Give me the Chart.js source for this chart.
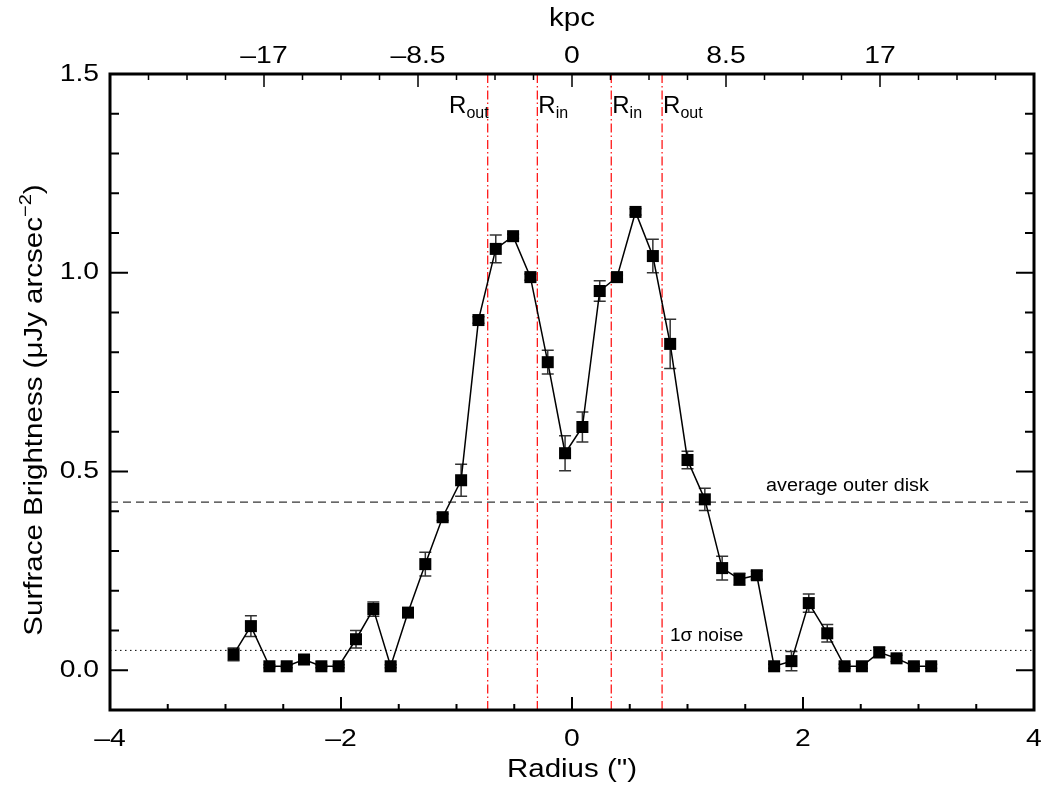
<!DOCTYPE html>
<html>
<head>
<meta charset="utf-8">
<script src="https://cdn.jsdelivr.net/npm/chart.js@4.4.1/dist/chart.umd.min.js"></script>
<style>
  html, body { margin: 0; padding: 0; background: #fff; }
  #wrap { width: 1052px; height: 790px; }
</style>
</head>
<body>
<div id="wrap"><canvas id="perfil" width="1052" height="790"></canvas></div>
<script>
// radial profile
var radius = [-2.93, -2.78, -2.62, -2.47, -2.32, -2.17, -2.02, -1.87, -1.72, -1.57,
              -1.42, -1.27, -1.12, -0.96, -0.81, -0.66, -0.51, -0.36, -0.21, -0.06,
               0.09,  0.24,  0.39,  0.55,  0.70,  0.85,  1.00,  1.15,  1.30,  1.45,
               1.60,  1.75,  1.90,  2.05,  2.21,  2.36,  2.51,  2.66,  2.81,  2.96, 3.11];
var brightness = [0.040, 0.111, 0.010, 0.010, 0.027, 0.010, 0.010, 0.078, 0.154, 0.010,
                  0.145, 0.267, 0.385, 0.478, 0.881, 1.060, 1.092, 0.989, 0.775, 0.546,
                  0.612, 0.954, 0.989, 1.153, 1.042, 0.821, 0.529, 0.430, 0.257, 0.229,
                  0.239, 0.010, 0.023, 0.169, 0.093, 0.010, 0.010, 0.045, 0.030, 0.010, 0.010];
var errors = [0.016, 0.026, 0.004, 0.004, 0.008, 0.004, 0.004, 0.022, 0.018, 0.004,
              0.008, 0.030, 0.008, 0.040, 0.008, 0.035, 0.005, 0.008, 0.030, 0.044,
              0.038, 0.026, 0.005, 0.008, 0.042, 0.062, 0.022, 0.028, 0.030, 0.015,
              0.010, 0.005, 0.024, 0.023, 0.022, 0.005, 0.005, 0.013, 0.008, 0.005, 0.005];

var rLines = [-0.73, -0.30, 0.34, 0.78];
var rSubs = ['out', 'in', 'in', 'out'];
var avgOuterDisk = 0.423;
var noiseLevel = 0.05;

var xTicks = [-4, -2, 0, 2, 4];
var yTicks = [0.0, 0.5, 1.0, 1.5];
var kpcTicks = [-17, -8.5, 0, 8.5, 17];
var kpcPerArcsec = 6.375;

var FONT = '"Liberation Sans", Arial, Helvetica, sans-serif';
// the original lettering is a little wider than Helvetica
var ANCHO = 1.18;

function dash(v) {
    return v < 0 ? '\u2013' + String(Math.abs(v)) : String(v);
}

function vline(x) {
    return [{ x: x, y: -0.1 }, { x: x, y: 1.5 }];
}

function texto(ctx, s, x, y, size, align, stretch, rot) {
    ctx.save();
    ctx.font = size + 'px ' + FONT;
    ctx.textAlign = align;
    ctx.textBaseline = 'middle';
    ctx.fillStyle = '#000';
    ctx.translate(x, y);
    if (rot) ctx.rotate(rot);
    ctx.scale(stretch, 1);
    ctx.fillText(s, 0, 0);
    ctx.restore();
}

var datasets = [{
    label: 'perfil',
    data: radius.map(function (r, i) { return { x: r, y: brightness[i] }; }),
    borderColor: '#000',
    borderWidth: 1.5,
    pointStyle: 'rect',
    pointRadius: 8.5,
    pointBackgroundColor: '#000',
    pointBorderWidth: 0,
    tension: 0
}];
rLines.forEach(function (r) {
    datasets.push({
        data: vline(r),
        borderColor: '#ff1a1a',
        borderWidth: 1.3,
        borderDash: [9, 3, 1.5, 3],
        pointRadius: 0
    });
});
datasets.push({
    data: [{ x: -4, y: avgOuterDisk }, { x: 4, y: avgOuterDisk }],
    borderColor: '#000', borderWidth: 1, borderDash: [8, 5], pointRadius: 0
});
datasets.push({
    data: [{ x: -4, y: noiseLevel }, { x: 4, y: noiseLevel }],
    borderColor: '#000', borderWidth: 1, borderDash: [1.5, 3.5], pointRadius: 0
});

// error bars under the squares
var barrasError = {
    id: 'barrasError',
    beforeDatasetsDraw: function (chart) {
        var ctx = chart.ctx, sx = chart.scales.x, sy = chart.scales.y;
        ctx.save();
        ctx.strokeStyle = '#333';
        ctx.lineWidth = 1.5;
        radius.forEach(function (r, i) {
            var px = sx.getPixelForValue(r);
            var y1 = sy.getPixelForValue(brightness[i] + errors[i]);
            var y2 = sy.getPixelForValue(brightness[i] - errors[i]);
            ctx.beginPath();
            ctx.moveTo(px, y1); ctx.lineTo(px, y2);
            ctx.moveTo(px - 6, y1); ctx.lineTo(px + 6, y1);
            ctx.moveTo(px - 6, y2); ctx.lineTo(px + 6, y2);
            ctx.stroke();
        });
        ctx.restore();
    }
};

// frame, inward ticks, labels, annotations and titles
var marco = {
    id: 'marco',
    afterDraw: function (chart) {
        var ctx = chart.ctx, a = chart.chartArea;
        var sx = chart.scales.x, sy = chart.scales.y, sk = chart.scales.kpc;
        var i, p, v;
        ctx.save();
        ctx.strokeStyle = '#000';

        // bottom ticks
        ctx.lineWidth = 2;
        ctx.beginPath();
        for (v = -4; v <= 4.001; v += 0.5) {
            p = sx.getPixelForValue(v);
            var major = Math.abs(v % 2) < 0.001;
            ctx.moveTo(p, a.bottom); ctx.lineTo(p, a.bottom - (major ? 13 : 6));
        }
        ctx.stroke();

        // top ticks (kpc)
        ctx.lineWidth = 1.5;
        ctx.beginPath();
        for (v = -25.5; v <= 25.501; v += 2.125) {
            p = sk.getPixelForValue(v);
            var mj = Math.abs((v / 8.5) - Math.round(v / 8.5)) < 0.001;
            ctx.moveTo(p, a.top); ctx.lineTo(p, a.top + (mj ? 13 : 6));
        }
        ctx.stroke();

        // left and right ticks
        ctx.lineWidth = 2;
        ctx.beginPath();
        for (i = -1; i <= 15; i++) {
            v = i / 10;
            p = sy.getPixelForValue(v);
            var len = (i % 5 === 0) ? 18 : 9;
            ctx.moveTo(a.left, p); ctx.lineTo(a.left + len, p);
            ctx.moveTo(a.right, p); ctx.lineTo(a.right - len, p);
        }
        ctx.stroke();

        // frame
        ctx.lineWidth = 3;
        ctx.strokeRect(a.left, a.top, a.right - a.left, a.bottom - a.top);
        ctx.restore();

        // tick labels from the scales
        sx.ticks.forEach(function (t) {
            texto(ctx, dash(t.value), sx.getPixelForValue(t.value), a.bottom + 29, 24, 'center', ANCHO);
        });
        sk.ticks.forEach(function (t) {
            texto(ctx, dash(t.value), sk.getPixelForValue(t.value), a.top - 18, 24, 'center', ANCHO);
        });
        sy.ticks.forEach(function (t) {
            texto(ctx, t.value.toFixed(1), a.left - 11, sy.getPixelForValue(t.value), 24, 'right', ANCHO);
        });

        // axis titles
        texto(ctx, 'kpc', (a.left + a.right) / 2, 19, 25, 'center', ANCHO);
        texto(ctx, 'Radius (")', (a.left + a.right) / 2, 770, 25, 'center', ANCHO);

        // R labels
        ctx.save();
        ctx.fillStyle = '#000';
        ctx.textBaseline = 'alphabetic';
        rLines.forEach(function (r, k) {
            var lx = sx.getPixelForValue(r);
            ctx.font = '24px ' + FONT;
            var wR = ctx.measureText('R').width;
            ctx.font = '16px ' + FONT;
            var wS = ctx.measureText(rSubs[k]).width;
            var x0 = k === 0 ? lx - wR - wS + 1 : lx + 1;
            ctx.font = '24px ' + FONT;
            ctx.fillText('R', x0, 113);
            ctx.font = '16px ' + FONT;
            ctx.fillText(rSubs[k], x0 + wR, 118);
        });
        ctx.restore();

        // line annotations
        texto(ctx, 'average outer disk', 766, 486, 18, 'left', 1.1);
        texto(ctx, '1\u03c3 noise', 670, 636, 18, 'left', 1.06);

        // y title with superscript
        ctx.save();
        ctx.fillStyle = '#000';
        ctx.textBaseline = 'alphabetic';
        var t1 = 'Surfrace Brightness (\u03bcJy arcsec';
        var sup = '\u22122';
        var t2 = ')';
        ctx.translate(42, 410);
        ctx.rotate(-Math.PI / 2);
        ctx.scale(ANCHO, 1);
        ctx.font = '25px ' + FONT;
        var w1 = ctx.measureText(t1).width, w3 = ctx.measureText(t2).width;
        ctx.font = '17px ' + FONT;
        var w2 = ctx.measureText(sup).width;
        var start = -(w1 + w2 + w3) / 2;
        ctx.font = '25px ' + FONT;
        ctx.fillText(t1, start, 0);
        ctx.font = '17px ' + FONT;
        ctx.fillText(sup, start + w1, -11);
        ctx.font = '25px ' + FONT;
        ctx.fillText(t2, start + w1 + w2, 0);
        ctx.restore();
    }
};

new Chart(document.getElementById('perfil'), {
    type: 'line',
    data: { datasets: datasets },
    plugins: [barrasError, marco],
    options: {
        responsive: false,
        devicePixelRatio: 1,
        animation: false,
        layout: { padding: { left: 0, right: 18, top: 0, bottom: 0 } },
        plugins: { legend: { display: false }, tooltip: { enabled: false } },
        scales: {
            x: {
                type: 'linear', position: 'bottom', min: -4, max: 4,
                afterBuildTicks: function (s) { s.ticks = xTicks.map(function (v) { return { value: v }; }); },
                afterFit: function (s) { s.height = 80; },
                grid: { display: false, drawTicks: false },
                border: { display: false },
                ticks: { display: false }
            },
            kpc: {
                type: 'linear', position: 'top', axis: 'x',
                min: -4 * kpcPerArcsec, max: 4 * kpcPerArcsec,
                afterBuildTicks: function (s) { s.ticks = kpcTicks.map(function (v) { return { value: v }; }); },
                afterFit: function (s) { s.height = 74; },
                grid: { display: false, drawTicks: false },
                border: { display: false },
                ticks: { display: false }
            },
            y: {
                type: 'linear', position: 'left', min: -0.1, max: 1.5,
                afterBuildTicks: function (s) { s.ticks = yTicks.map(function (v) { return { value: v }; }); },
                afterFit: function (s) { s.width = 110; },
                grid: { display: false, drawTicks: false },
                border: { display: false },
                ticks: { display: false }
            }
        }
    }
});
</script>
</body>
</html>
